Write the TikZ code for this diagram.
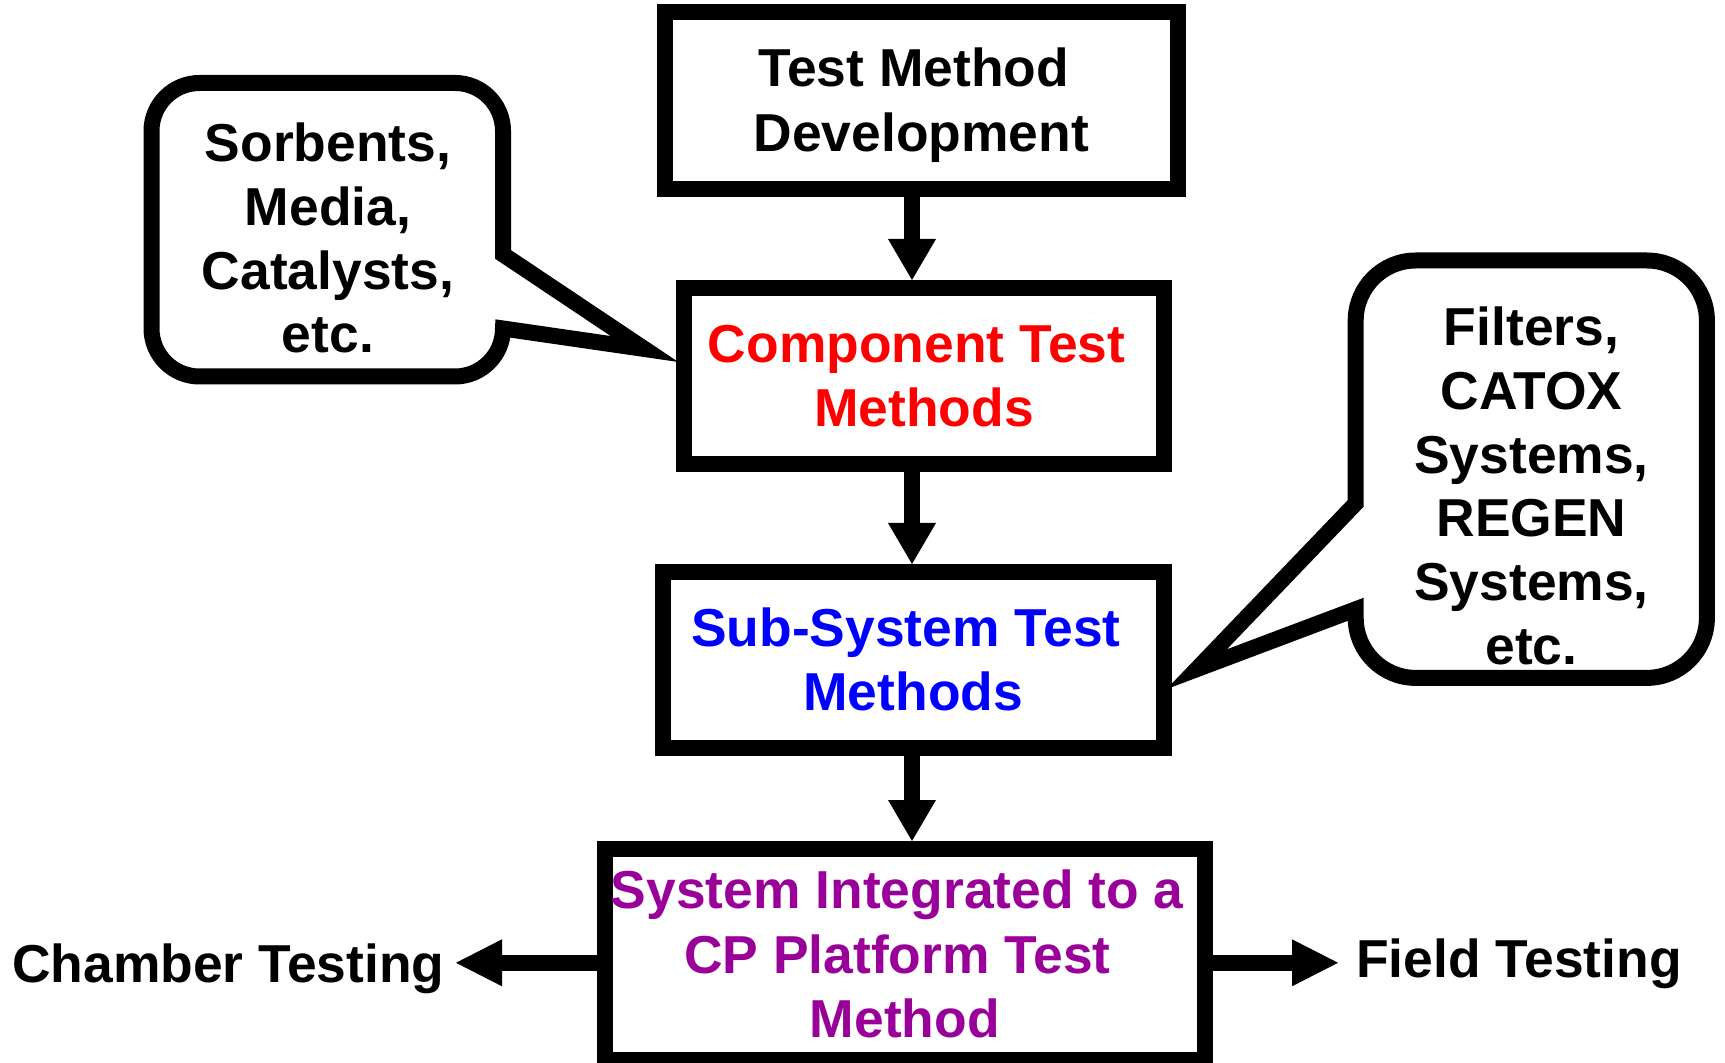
\documentclass[tikz,border=0pt]{standalone}
\usepackage{fontspec}
\setmainfont{Liberation Sans}
\usetikzlibrary{arrows.meta}
\definecolor{cpred}{HTML}{FF0000}
\definecolor{cpblue}{HTML}{0000FF}
\definecolor{cppurple}{HTML}{990099}
\newcommand\lnst{\rule[-.212em]{0pt}{1.117em}}
\newcommand\tsp{\hspace*{.278em}}
\begin{document}
\begin{tikzpicture}[x=0.5pt,y=-0.5pt,
  bigfont/.style={font=\bfseries\fontsize{26.7pt}{#1}\selectfont},
  bigfont/.default=32.5pt,
  boxnode/.style={draw=black, fill=white, line width=8pt, inner sep=0pt, align=center, bigfont},
  calltext/.style={inner sep=0pt, align=center, bigfont=31.9pt},
  callshape/.style={draw=black, line width=8pt, line join=miter},
  sidetext/.style={inner ysep=0pt, text height=24pt, bigfont},
  varr/.style={line width=8pt, -{Triangle[width=24pt,length=20.5pt,line width=0pt]}},
  harr/.style={line width=7.75pt, -{Triangle[width=23.5pt,length=23pt,line width=0pt]}}]
\useasboundingbox (0,0) rectangle (1725,1063);

% callout texts
\node[calltext] (ltext) at (328,238.7)
  {\lnst Sorbents,\\\lnst Media,\\\lnst Catalysts,\\\lnst etc.};
\node[calltext] (rtext) at (1531.5,486.4)
  {\lnst Filters,\\\lnst CATOX\\\lnst Systems,\\\lnst REGEN\\\lnst Systems,\\\lnst etc.};

% callout shapes
\draw[callshape] (503,254.4) -- (644.5,349) -- (503,328.5)
  .. controls (503,355) and (481.5,376.5) .. (455,376.5)
  -- (199.5,376.5) .. controls (173,376.5) and (151.5,355) .. (151.5,328.5)
  -- (151.5,131) .. controls (151.5,104.5) and (173,83) .. (199.5,83)
  -- (455,83) .. controls (481.5,83) and (503,104.5) .. (503,131)
  -- cycle;
\draw[callshape] (1355.7,503.4) -- (1196.7,669.2) -- (1355.7,609.3)
  -- (1355.7,617.9) .. controls (1355.7,651) and (1382.6,677.9) .. (1415.7,677.9)
  -- (1646.9,677.9) .. controls (1680,677.9) and (1706.9,651) .. (1706.9,617.9)
  -- (1706.9,320.5) .. controls (1706.9,287.4) and (1680,260.5) .. (1646.9,260.5)
  -- (1415.7,260.5) .. controls (1382.6,260.5) and (1355.7,287.4) .. (1355.7,320.5)
  -- cycle;

% boxes
\node[boxnode, minimum width=256.25pt, minimum height=88.25pt] (b1) at (921.25,100.75)
  {\lnst Test Method\tsp\\\lnst Development};
\node[boxnode, bigfont=32pt, text=cpred, minimum width=240.35pt, minimum height=88pt] (b2) at (924,376)
  {\lnst Component Test\tsp\\\lnst Methods};
\node[boxnode, bigfont=32pt, text=cpblue, minimum width=250.75pt, minimum height=88pt] (b3) at (913.25,660)
  {\lnst Sub-System Test\tsp\\\lnst Methods};
\node[boxnode, bigfont=32.25pt, text=cppurple, minimum width=299.75pt, minimum height=105.5pt] (b4) at (904.75,954.5)
  {\lnst System Integrated to a\tsp\\\lnst CP Platform Test\tsp\tsp\\\lnst Method};

% side labels
\node[sidetext, text depth=4.5pt, inner xsep=5.55pt] (chamber) at (228.4,962.8) {Chamber Testing};
\node[sidetext, text depth=9.5pt, inner xsep=8.9pt] (field) at (1518.9,962.8) {Field Testing};

% connectors
\coordinate (ax) at (912,0);
\draw[varr] (ax |- b1.south) -- (ax |- b2.north);
\draw[varr] (ax |- b2.south) -- (ax |- b3.north);
\draw[varr] (ax |- b3.south) -- (ax |- b4.north);
\draw[harr] (b4.west |- chamber.east) -- (chamber.east);
\draw[harr] (b4.east |- field.west) -- (field.west);
\end{tikzpicture}
\end{document}
